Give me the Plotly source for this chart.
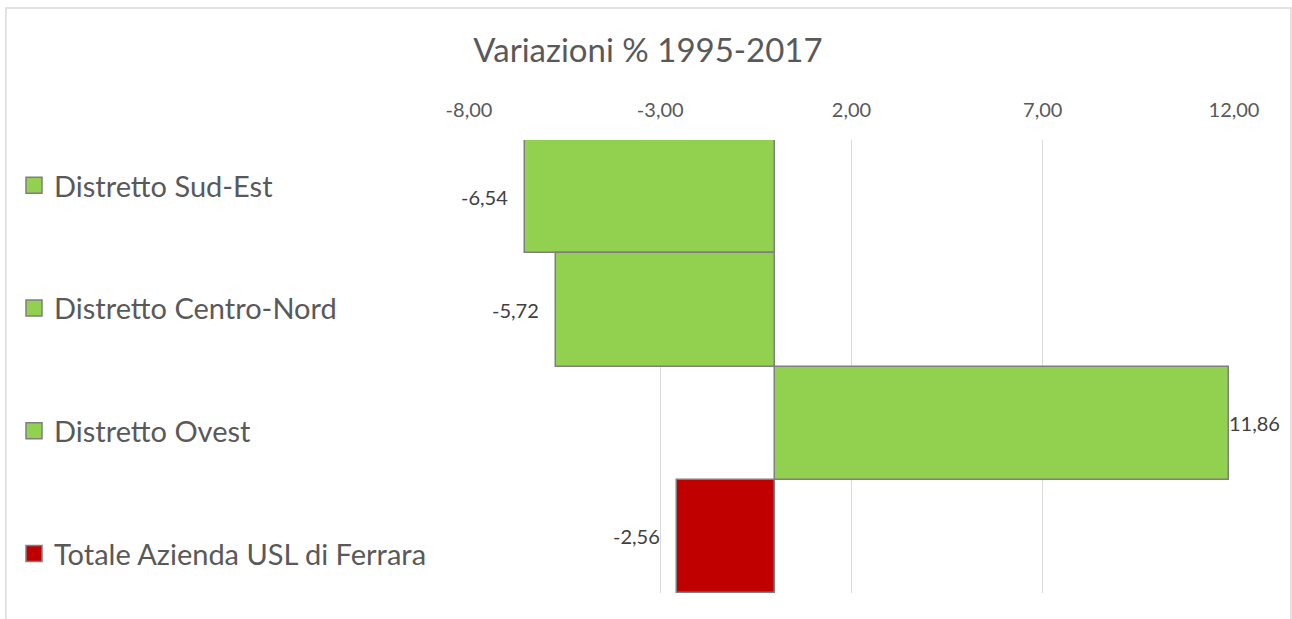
import plotly.graph_objects as go

categories = ["Distretto Sud-Est", "Distretto Centro-Nord", "Distretto Ovest", "Totale Azienda USL di Ferrara"]
values = [-6.54, -5.72, 11.86, -2.56]
colors = ["#92D050", "#92D050", "#92D050", "#C00000"]
tick_vals = [-8, -3, 2, 7, 12]
tick_text = [f"{v:.2f}".replace(".", ",") for v in tick_vals]

FONT = "Lato"

fig = go.Figure()
for cat, val, col in zip(categories, values, colors):
    fig.add_trace(go.Bar(
        y=[cat], x=[val], orientation="h", name=cat, width=1,
        marker=dict(color=col, line=dict(color="#7F7F7F", width=1.5)),
        legendgroup=cat, showlegend=False, hoverinfo="x+name",
    ))
    # legend entry (square swatch like the original)
    fig.add_trace(go.Scatter(
        x=[None], y=[None], mode="markers", name=cat, legendgroup=cat,
        marker=dict(symbol="square", size=18, color=col,
                    line=dict(color="#7F7F7F", width=1.5)),
        showlegend=True,
    ))
    fig.add_annotation(
        x=val, y=cat, xref="x", yref="y",
        text=f"{val:.2f}".replace(".", ","), showarrow=False,
        xanchor="right" if val < 0 else "left",
        xshift=-15 if val < 0 else -2,
        font=dict(size=20, color="#404040", family=FONT),
    )

L, R, T, B = 469, 1234, 140, 593
W, H = 1292, 619
pw, ph = R - L, B - T

def px(x):
    return (x - L) / pw

def py(y):
    return (B - y) / ph

fig.update_layout(
    width=W, height=H,
    margin=dict(l=L, r=W - R, t=T, b=H - B),
    paper_bgcolor="white", plot_bgcolor="white",
    barmode="overlay", bargap=0,
    font=dict(family=FONT, color="#595959"),
    title=dict(text="Variazioni % 1995-2017", x=648 / W, xref="container",
               y=1 - 50 / H, yref="container", yanchor="middle", xanchor="center",
               font=dict(size=33, color="#595959", family=FONT)),
    xaxis=dict(side="top", range=[-8, 12], tickvals=tick_vals, ticktext=tick_text,
               showgrid=True, gridcolor="#D9D9D9", gridwidth=1, zeroline=False,
               showline=False, ticks="", ticklabelstandoff=18,
               tickfont=dict(size=20, color="#595959", family=FONT)),
    yaxis=dict(categoryorder="array", categoryarray=categories, autorange="reversed",
               showticklabels=False, showgrid=False, zeroline=False, showline=False),
    showlegend=True,
    legend=dict(x=px(14), xanchor="left", y=py(160), yanchor="top",
                font=dict(size=29, color="#595959", family=FONT),
                tracegroupgap=82, traceorder="grouped", itemwidth=30,
                bgcolor="rgba(0,0,0,0)"),
    shapes=[dict(type="rect", xref="paper", yref="paper",
                 x0=px(6), x1=px(1291), y0=py(630), y1=py(8),
                 line=dict(color="#D9D9D9", width=1.5), layer="below")],
)

fig.write_html("out.html", config={"displayModeBar": False},
               post_script="document.body.style.margin='0';document.body.style.overflow='hidden';")
